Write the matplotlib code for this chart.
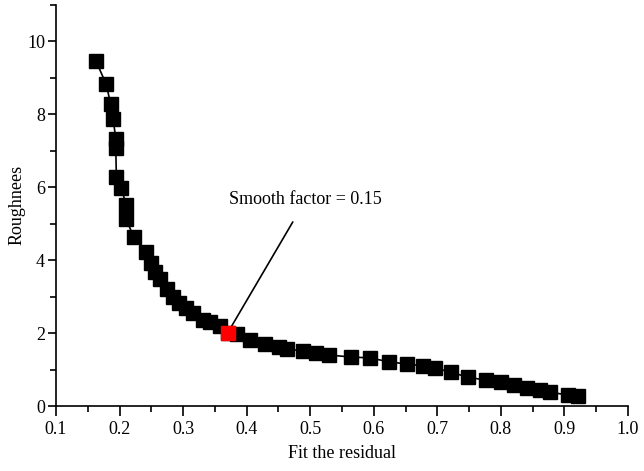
import numpy as np
import matplotlib.pyplot as plt
from matplotlib.ticker import MultipleLocator, FormatStrFormatter

plt.rcParams['font.family'] = ['Liberation Serif', 'DejaVu Serif']

# residual vs roughness (L-curve)
residual = [0.163, 0.179, 0.186, 0.190, 0.194, 0.194, 0.195, 0.203, 0.210, 0.210,
            0.223, 0.242, 0.249, 0.255, 0.264, 0.274, 0.284, 0.294, 0.305, 0.315,
            0.331, 0.342, 0.358, 0.370, 0.385, 0.405, 0.429, 0.451, 0.463, 0.488,
            0.509, 0.529, 0.565, 0.594, 0.624, 0.653, 0.677, 0.697, 0.721, 0.748,
            0.776, 0.800, 0.820, 0.841, 0.861, 0.878, 0.905, 0.921]
roughness = [9.45, 8.82, 8.27, 7.86, 7.32, 7.07, 6.27, 5.98, 5.51, 5.12,
             4.62, 4.23, 3.91, 3.68, 3.47, 3.22, 2.99, 2.81, 2.68, 2.54,
             2.36, 2.30, 2.19, 2.00, 1.97, 1.81, 1.70, 1.62, 1.56, 1.51,
             1.45, 1.40, 1.34, 1.32, 1.21, 1.15, 1.10, 1.04, 0.93, 0.79,
             0.71, 0.66, 0.58, 0.49, 0.44, 0.38, 0.30, 0.27]

best_x, best_y = 0.370, 2.00
label = 'Smooth factor = 0.15'

fig = plt.figure(figsize=(6.44, 4.71), dpi=100)
ax = fig.add_axes([0.087, 0.138, 0.888, 0.852])

ax.plot(residual, roughness, color='black', lw=1.2, marker='s', ms=10,
        mfc='black', mec='black')
ax.plot([best_x], [best_y], marker='s', ms=10, color='red', ls='none', zorder=5)

ax.annotate(label, xy=(best_x, best_y), xytext=(0.493, 5.65),
            ha='center', va='center', fontsize=13,
            arrowprops=dict(arrowstyle='-', color='black', lw=1.2,
                            shrinkA=9, shrinkB=5))

ax.set_xlim(0.1, 1.0)
ax.set_ylim(0, 11)
ax.xaxis.set_major_locator(MultipleLocator(0.1))
ax.xaxis.set_minor_locator(MultipleLocator(0.05))
ax.xaxis.set_major_formatter(FormatStrFormatter('%.1f'))
ax.yaxis.set_major_locator(MultipleLocator(2))
ax.yaxis.set_minor_locator(MultipleLocator(1))

for s in ['top', 'right']:
    ax.spines[s].set_visible(False)
for s in ['left', 'bottom']:
    ax.spines[s].set_linewidth(1.2)

ax.tick_params(which='major', direction='out', width=1.2, labelsize=13)
ax.tick_params(axis='x', which='major', length=7, pad=4)
ax.tick_params(axis='y', which='major', length=6, pad=2)
ax.tick_params(which='minor', direction='out', length=4, width=1.2)

ax.set_xlabel('Fit the residual', fontsize=13, labelpad=5)
ax.set_ylabel('Roughnees', fontsize=13, labelpad=1)

plt.savefig('out.png', dpi=100)
